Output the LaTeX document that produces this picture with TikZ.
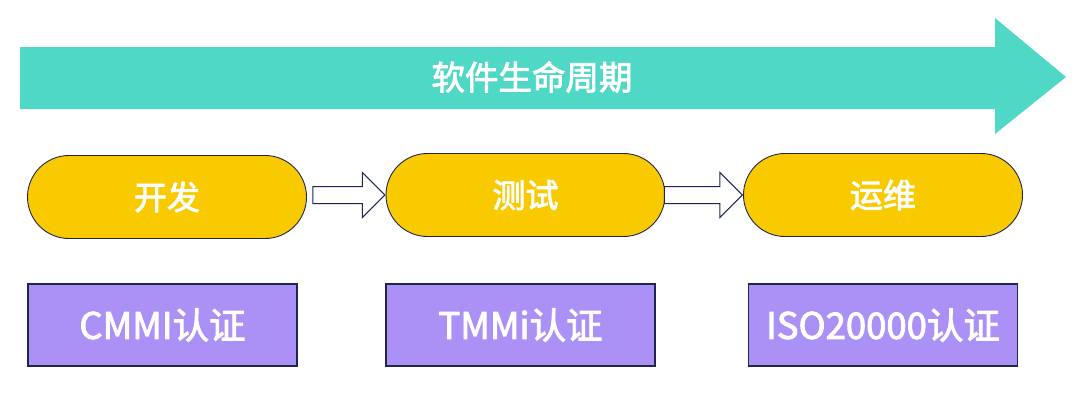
\documentclass[tikz,border=0pt]{standalone}
\usepackage{fontspec}
\newfontfamily\cjk[FakeBold=2.5]{Noto Sans CJK SC}
\usetikzlibrary{shapes.arrows}

\definecolor{lifeteal}{HTML}{4FD8C5}
\definecolor{stagegold}{HTML}{F9CA00}
\definecolor{certpurple}{HTML}{AB90F6}
\definecolor{edgenavy}{HTML}{1E2550}

\tikzset{
  stage/.style={draw=edgenavy, line width=0.9pt, fill=stagegold,
    rounded corners=41.5pt, minimum width=279pt, minimum height=83pt,
    text=white, font=\cjk\fontsize{33}{38}\selectfont},
  cert/.style={draw=edgenavy, line width=1.2pt, fill=certpurple,
    minimum width=269pt, minimum height=82pt, inner sep=0pt,
    text=white, font=\cjk\fontsize{36.5}{40}\selectfont},
  hollow/.style={single arrow, draw=edgenavy, line width=1pt, fill=white,
    inner sep=8pt, single arrow head extend=14pt, single arrow tip angle=90,
    minimum height=72pt, anchor=tip}
}

\begin{document}
\begin{tikzpicture}[x=1pt,y=-1pt]
  \useasboundingbox (0,0) rectangle (1080,418);

  %% life cycle band
  \fill[lifeteal] (20,47) -- (995,47) -- (995,18) -- (1066,77)
    -- (995,134) -- (995,109) -- (20,109) -- cycle;
  \node[text=white, font=\cjk\fontsize{33.5}{38}\selectfont]
    (life) at (532,77) {软件生命周期};

  %% stages
  \node[stage] (dev)  at (167,197)   {开发};
  \node[stage] (test) at (525.5,195) {测试};
  \node[stage] (ops)  at (883,195)   {运维};

  %% hollow arrows between the stages
  \node[hollow] (a1) at (test.west) {};
  \node[hollow, minimum height=78pt] (a2) at (ops.west) {};

  %% certifications
  \node[cert] (cmmi) at (162.5,325) {CMMI认证};
  \node[cert] (tmmi) at (520.5,325) {TMMi认证};
  \node[cert] (iso)  at (883,325)   {ISO20000认证};
\end{tikzpicture}
\end{document}
